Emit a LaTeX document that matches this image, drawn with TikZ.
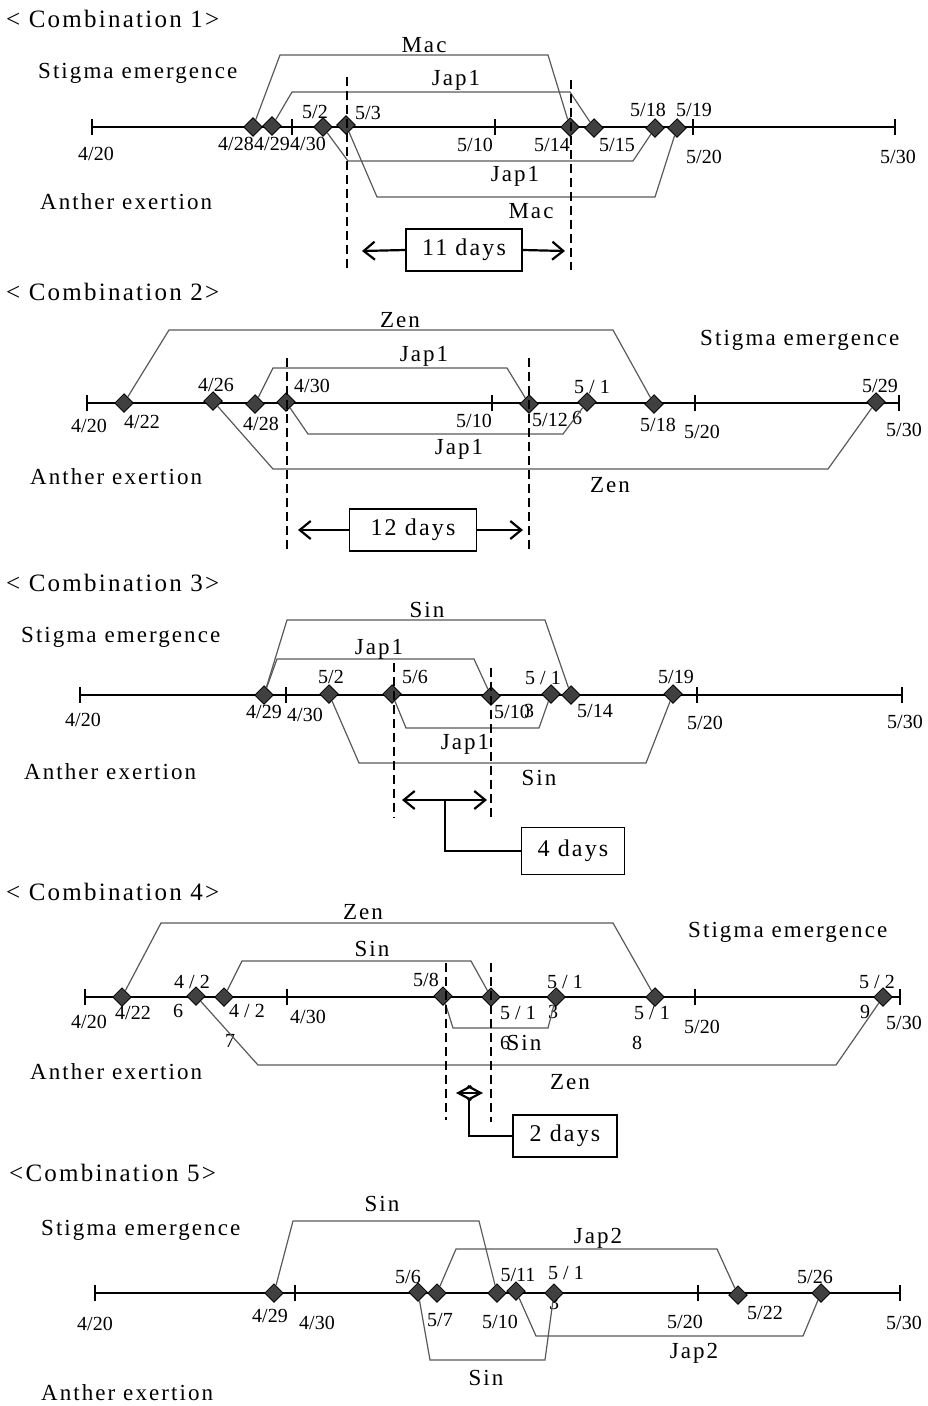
\documentclass[tikz,border=0pt]{standalone}
\usepackage{fontspec}
\setmainfont{Liberation Serif}
\newfontfamily\spacedfont[LetterSpace=9]{Liberation Serif}
\usetikzlibrary{arrows.meta}

\begin{document}
\begin{tikzpicture}[x=1pt,y=-1pt,>={Straight Barb[length=11pt,width=18pt]},
  axisline/.style={line width=2.6pt},
  tickmark/.style={line width=1.6pt},
  bar/.style={draw=black!65,line width=1.2pt},
  dia/.style={draw=black,fill=black!75,rotate=45,minimum size=13pt,inner sep=0pt,line width=0.8pt},
  dateno/.style={font=\fontsize{20}{20}\selectfont,inner sep=0pt},
  word/.style={font=\spacedfont\fontsize{23}{23}\selectfont,inner sep=0pt},
  combi/.style={font=\spacedfont\fontsize{25}{25}\selectfont,inner sep=0pt,anchor=west},
  gap/.style={line width=1.6pt,dash pattern=on 9pt off 5pt},
  measure/.style={line width=2.2pt},
  daybox/.style={draw,line width=1.4pt,font=\spacedfont\fontsize{24}{24}\selectfont,minimum height=42pt}]
\useasboundingbox (0,0) rectangle (928,1406);

% ---- combination 1
\node[combi] (t1) at (6,19) {< Combination 1>};
\node[word,anchor=west] (s1) at (38,73) {Stigma emergence};
\node[word,anchor=west] (x1) at (40,202) {Anther exertion};
\draw[axisline] (92,127) -- (895,127);
\foreach \x in {92,292,495,693,895} \draw[tickmark] (\x,119) -- (\x,135);
\node[dateno] (n1a) at (96,154) {4/20};
\node[dateno] (n1b) at (236,144) {4/28};
\node[dateno] (n1c) at (272,144) {4/29};
\node[dateno] (n1d) at (308,144) {4/30};
\node[dateno] (n1e) at (315,112) {5/2};
\node[dateno] (n1f) at (368,113) {5/3};
\node[dateno] (n1g) at (475,145) {5/10};
\node[dateno] (n1h) at (552,145) {5/14};
\node[dateno] (n1i) at (617,145) {5/15};
\node[dateno] (n1j) at (648,110) {5/18};
\node[dateno] (n1k) at (694,110) {5/19};
\node[dateno] (n1l) at (704,157) {5/20};
\node[dateno] (n1m) at (898,157) {5/30};
\node[dia] (c1apr28) at (253,127) {};
\node[dia] (c1apr29) at (272,126) {};
\node[dia] (c1may2) at (323,127) {};
\node[dia] (c1may3) at (346,125) {};
\node[dia] (c1may14) at (570,127) {};
\node[dia] (c1may15) at (594,128) {};
\node[dia] (c1may18) at (655,128) {};
\node[dia] (c1may19) at (677,128) {};
\draw[bar] (c1apr28) -- (280,55) -- (548,55) -- (c1may14);
\draw[bar] (c1apr29) -- (292,92) -- (570,92) -- (c1may15);
\draw[bar] (c1may2) -- (348,161) -- (633,161) -- (c1may18);
\draw[bar] (c1may3) -- (377,197) -- (655,197) -- (c1may19);
\node[word] (v1a) at (424,45) {Mac};
\node[word] (v1b) at (456,80) {Jap1};
\node[word] (v1c) at (515,176) {Jap1};
\node[word] (v1d) at (531,211) {Mac};
\draw[gap] (347,77) -- (347,270);
\draw[gap] (571,80) -- (571,270);
\node[daybox,minimum width=116pt] (b1) at (464,250) {11 days};
\coordinate (e1l) at (362,251);
\coordinate (e1r) at (565,251);
\draw[measure,->] (b1.west) -- (e1l);
\draw[measure,->] (b1.east) -- (e1r);

% ---- combination 2
\node[combi] (t2) at (6,292) {< Combination 2>};
\node[word,anchor=west] (s2) at (700,340) {Stigma emergence};
\node[word,anchor=west] (x2) at (30,477) {Anther exertion};
\draw[axisline] (87,403) -- (899,403);
\foreach \x in {87,287,492,695,899} \draw[tickmark] (\x,395) -- (\x,411);
\node[dateno] (n2a) at (89,426) {4/20};
\node[dateno] (n2b) at (142,422) {4/22};
\node[dateno] (n2c) at (216,385) {4/26};
\node[dateno] (n2d) at (261,424) {4/28};
\node[dateno] (n2e) at (312,386) {4/30};
\node[dateno] (n2f) at (474,421) {5/10};
\node[dateno] (n2g) at (550,420) {5/12};
\node[dateno] (n2h) at (577,418) {6};
\node[dateno] (n2i) at (592,387) {5 / 1};
\node[dateno] (n2j) at (658,425) {5/18};
\node[dateno] (n2k) at (702,432) {5/20};
\node[dateno] (n2l) at (880,386) {5/29};
\node[dateno] (n2m) at (904,430) {5/30};
\node[dia] (c2apr22) at (124,403) {};
\node[dia] (c2apr26) at (213,401) {};
\node[dia] (c2apr28) at (255,404) {};
\node[dia] (c2apr30) at (286,402) {};
\node[dia] (c2may12) at (529,404) {};
\node[dia] (c2may16) at (587,402) {};
\node[dia] (c2may18) at (654,404) {};
\node[dia] (c2may29) at (876,402) {};
\draw[bar] (c2apr22) -- (169,330) -- (613,330) -- (c2may18);
\draw[bar] (c2apr28) -- (273,368) -- (507,368) -- (c2may12);
\draw[bar] (c2apr30) -- (308,434) -- (563,434) -- (c2may16);
\draw[bar] (c2apr26) -- (273,469) -- (828,469) -- (c2may29);
\node[word] (v2a) at (400,320) {Zen};
\node[word] (v2b) at (424,356) {Jap1};
\node[word] (v2c) at (459,449) {Jap1};
\node[word] (v2d) at (610,485) {Zen};
\draw[gap] (287,358) -- (287,553);
\draw[gap] (529,358) -- (529,553);
\node[daybox,minimum width=127pt] (b2) at (413,530) {12 days};
\coordinate (e2l) at (298,530);
\coordinate (e2r) at (523,530);
\draw[measure,->] (b2.west) -- (e2l);
\draw[measure,->] (b2.east) -- (e2r);

% ---- combination 3
\node[combi] (t3) at (6,583) {< Combination 3>};
\node[word,anchor=west] (s3) at (21,637) {Stigma emergence};
\node[word,anchor=west] (x3) at (24,772) {Anther exertion};
\draw[axisline] (80,695) -- (902,695);
\foreach \x in {80,286,491,697,902} \draw[tickmark] (\x,687) -- (\x,703);
\node[dateno] (n3a) at (83,720) {4/20};
\node[dateno] (n3b) at (264,712) {4/29};
\node[dateno] (n3c) at (305,715) {4/30};
\node[dateno] (n3d) at (331,677) {5/2};
\node[dateno] (n3e) at (415,677) {5/6};
\node[dateno] (n3f) at (512,712) {5/10};
\node[dateno] (n3g) at (529,711) {3};
\node[dateno] (n3h) at (543,678) {5 / 1};
\node[dateno] (n3i) at (595,711) {5/14};
\node[dateno] (n3j) at (676,677) {5/19};
\node[dateno] (n3k) at (705,723) {5/20};
\node[dateno] (n3l) at (905,722) {5/30};
\node[dia] (c3apr29) at (264,695) {};
\node[dia] (c3may2) at (329,694) {};
\node[dia] (c3may6) at (392,694) {};
\node[dia] (c3may10) at (491,696) {};
\node[dia] (c3may13) at (551,694) {};
\node[dia] (c3may14) at (571,695) {};
\node[dia] (c3may19) at (673,694) {};
\draw[bar] (c3apr29) -- (287,620) -- (545,620) -- (c3may14);
\draw[bar] (c3apr29) -- (277,659) -- (474,659) -- (c3may10);
\draw[bar] (c3may6) -- (406,728) -- (539,728) -- (c3may13);
\draw[bar] (c3may2) -- (359,763) -- (646,763) -- (c3may19);
\node[word] (v3a) at (427,610) {Sin};
\node[word] (v3b) at (379,649) {Jap1};
\node[word] (v3c) at (465,744) {Jap1};
\node[word] (v3d) at (539,778) {Sin};
\draw[gap] (394,663) -- (394,818);
\draw[gap] (491,668) -- (491,820);
\coordinate (e3l) at (402,800);
\coordinate (e3r) at (487,800);
\coordinate (e3m) at (445,800);
\draw[measure,<->] (e3l) -- (e3r);
\node[daybox,minimum width=103pt,minimum height=47pt] (b3) at (573,851) {4 days};
\draw[measure,line width=1.6pt] (e3m) |- (b3.west);

% ---- combination 4
\node[combi] (t4) at (6,892) {< Combination 4>};
\node[word,anchor=west] (s4) at (688,932) {Stigma emergence};
\node[word,anchor=west] (x4) at (30,1072) {Anther exertion};
\draw[axisline] (85,997) -- (900,997);
\foreach \x in {85,287,491,695,900} \draw[tickmark] (\x,989) -- (\x,1005);
\node[dateno] (n4a) at (89,1022) {4/20};
\node[dateno] (n4b) at (133,1013) {4/22};
\node[dateno] (n4c) at (192,982) {4 / 2};
\node[dateno] (n4d) at (178,1011) {6};
\node[dateno] (n4e) at (247,1011) {4 / 2};
\node[dateno] (n4f) at (230,1041) {7};
\node[dateno] (n4g) at (308,1017) {4/30};
\node[dateno] (n4h) at (426,980) {5/8};
\node[dateno] (n4i) at (518,1013) {5 / 1};
\node[dateno] (n4j) at (553,1012) {3};
\node[dateno] (n4k) at (565,982) {5 / 1};
\node[dateno] (n4l) at (505,1043) {6};
\node[dateno] (n4m) at (652,1013) {5 / 1};
\node[dateno] (n4n) at (637,1043) {8};
\node[dateno] (n4o) at (702,1027) {5/20};
\node[dateno] (n4p) at (877,982) {5 / 2};
\node[dateno] (n4q) at (865,1012) {9};
\node[dateno] (n4r) at (904,1023) {5/30};
\node[dia] (c4apr22) at (122,997) {};
\node[dia] (c4apr26) at (196,996) {};
\node[dia] (c4apr27) at (224,997) {};
\node[dia] (c4may8) at (443,996) {};
\node[dia] (c4may11) at (491,997) {};
\node[dia] (c4may13) at (556,997) {};
\node[dia] (c4may18) at (655,997) {};
\node[dia] (c4may29) at (883,997) {};
\draw[bar] (c4apr22) -- (161,923) -- (613,923) -- (c4may18);
\draw[bar] (c4apr27) -- (242,961) -- (471,961) -- (c4may11);
\draw[bar] (c4may8) -- (453,1028) -- (548,1028) -- (c4may13);
\draw[bar] (c4apr26) -- (258,1065) -- (836,1065) -- (c4may29);
\node[word] (v4a) at (363,912) {Zen};
\node[word] (v4b) at (372,949) {Sin};
\node[word] (v4c) at (524,1043) {Sin};
\node[word] (v4d) at (570,1082) {Zen};
\draw[gap] (446,963) -- (446,1120);
\draw[gap] (491,963) -- (491,1122);
\coordinate (e4l) at (456,1093);
\coordinate (e4r) at (483,1093);
\coordinate (e4m) at (469,1100);
\draw[measure,<->,>={Straight Barb[length=13pt,width=14pt]}] (e4l) -- (e4r);
\node[daybox,minimum width=104pt] (b4) at (565,1136) {2 days};
\draw[measure,line width=1.6pt] (e4m) |- (b4.west);

% ---- combination 5
\node[combi] (t5) at (9,1173) {<Combination 5>};
\node[word,anchor=west] (s5) at (41,1230) {Stigma emergence};
\node[word,anchor=west] (x5) at (41,1393) {Anther exertion};
\draw[axisline] (95,1293) -- (900,1293);
\foreach \x in {95,295,497,698,900} \draw[tickmark] (\x,1285) -- (\x,1301);
\node[dateno] (n5a) at (95,1324) {4/20};
\node[dateno] (n5b) at (270,1316) {4/29};
\node[dateno] (n5c) at (317,1323) {4/30};
\node[dateno] (n5d) at (408,1277) {5/6};
\node[dateno] (n5e) at (440,1320) {5/7};
\node[dateno] (n5f) at (500,1322) {5/10};
\node[dateno] (n5g) at (518,1275) {5/11};
\node[dateno] (n5h) at (566,1273) {5 / 1};
\node[dateno] (n5i) at (554,1303) {3};
\node[dateno] (n5j) at (685,1322) {5/20};
\node[dateno] (n5k) at (765,1313) {5/22};
\node[dateno] (n5l) at (815,1277) {5/26};
\node[dateno] (n5m) at (904,1323) {5/30};
\node[dia] (c5apr29) at (274,1293) {};
\node[dia] (c5may6) at (418,1292) {};
\node[dia] (c5may7) at (437,1293) {};
\node[dia] (c5may10) at (497,1293) {};
\node[dia] (c5may11) at (516,1291) {};
\node[dia] (c5may13) at (554,1293) {};
\node[dia] (c5may22) at (738,1295) {};
\node[dia] (c5may26) at (821,1293) {};
\draw[bar] (c5apr29) -- (293,1221) -- (479,1221) -- (c5may10);
\draw[bar] (c5may7) -- (456,1249) -- (717,1249) -- (c5may22);
\draw[bar] (c5may6) -- (430,1360) -- (545,1360) -- (c5may13);
\draw[bar] (c5may11) -- (536,1336) -- (803,1336) -- (c5may26);
\node[word] (v5a) at (382,1204) {Sin};
\node[word] (v5b) at (598,1238) {Jap2};
\node[word] (v5c) at (486,1378) {Sin};
\node[word] (v5d) at (694,1353) {Jap2};
\end{tikzpicture}
\end{document}
